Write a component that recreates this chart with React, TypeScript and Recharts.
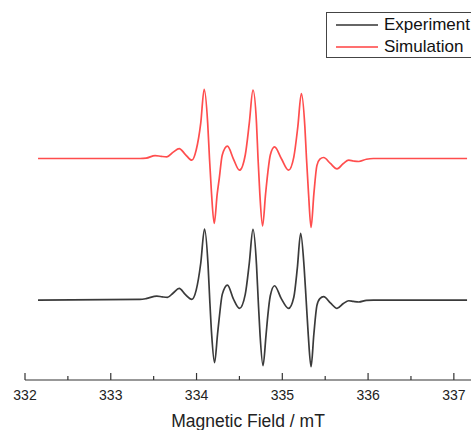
import { LineChart, Line, XAxis, YAxis, Label } from "recharts";

// magnetic field (mT) and derivative EPR signal (a.u.), baseline 0
const fieldSim = [
  332.152, 333.342, 333.412, 333.517, 333.588, 333.654, 333.728, 333.798, 333.868, 333.946,
  333.996, 334.049, 334.089, 334.13, 334.151, 334.175, 334.206, 334.241, 334.265, 334.3,
  334.361, 334.428, 334.501, 334.568, 334.615, 334.658, 334.699, 334.717, 334.738, 334.77,
  334.805, 334.831, 334.86, 334.91, 334.988, 335.073, 335.134, 335.181, 335.222, 335.263,
  335.282, 335.306, 335.335, 335.368, 335.403, 335.438, 335.482, 335.56, 335.638, 335.712,
  335.774, 335.829, 335.891, 335.98, 336.062, 337.154,
];
const simulation = [
  0, 0, 0.005, 0.042, 0.03, 0.023, 0.09, 0.141, 0.06, -0.024,
  0.12, 0.5, 0.979, 0.5, 0.0, -0.5, -0.918, -0.5, -0.28, 0.05,
  0.174, 0.0, -0.165, 0.05, 0.5, 0.965, 0.5, 0.0, -0.5, -0.952,
  -0.5, -0.2, 0.05, 0.164, 0.0, -0.165, 0.02, 0.45, 0.918, 0.45,
  0.0, -0.5, -0.975, -0.5, -0.1, -0.01, 0.014, -0.07, -0.147, -0.07,
  -0.024, -0.035, -0.042, -0.01, 0, 0,
];

const fieldExp = [
  332.152, 333.342, 333.412, 333.537, 333.599, 333.661, 333.728, 333.798, 333.868, 333.946,
  333.996, 334.049, 334.093, 334.134, 334.154, 334.177, 334.21, 334.245, 334.265, 334.3,
  334.361, 334.428, 334.501, 334.568, 334.615, 334.658, 334.699, 334.719, 334.741, 334.775,
  334.81, 334.831, 334.86, 334.91, 334.988, 335.073, 335.134, 335.175, 335.214, 335.254,
  335.278, 335.303, 335.335, 335.368, 335.403, 335.438, 335.482, 335.56, 335.638, 335.712,
  335.774, 335.829, 335.891, 335.98, 336.062, 337.154,
];
const experiment = [
  0, 0.01, 0.02, 0.056, 0.045, 0.038, 0.1, 0.165, 0.08, 0.01,
  0.14, 0.52, 1.003, 0.5, 0.0, -0.5, -0.885, -0.48, -0.25, 0.08,
  0.212, 0.02, -0.118, 0.08, 0.52, 0.998, 0.5, 0.0, -0.5, -0.927,
  -0.5, -0.22, 0.06, 0.202, 0.02, -0.118, 0.04, 0.45, 0.942, 0.47,
  0.0, -0.5, -0.942, -0.48, -0.08, 0.02, 0.047, -0.04, -0.118, -0.05,
  -0.01, -0.02, -0.028, -0.005, 0, 0,
];

const xTicks = [332, 332.5, 333, 333.5, 334, 334.5, 335, 335.5, 336, 336.5, 337];

// simulation is stacked above the experiment
const SIM_OFFSET = 2;

const simData = fieldSim.map((x, i) => ({ x, y: simulation[i] + SIM_OFFSET }));
const expData = fieldExp.map((x, i) => ({ x, y: experiment[i] }));

const FONT = "'Liberation Sans', Arial, sans-serif";

const FieldTick = ({ x, y, payload }: { x?: number; y?: number; payload?: { value: number } }) => {
  if (x === undefined || y === undefined || !payload) return null;
  const major = Number.isInteger(payload.value);
  return (
    <g>
      <line x1={x} x2={x} y1={y} y2={y - (major ? 7 : 4)} stroke="#333" strokeWidth={1.2} />
      {major && (
        <text x={x} y={y + 20} textAnchor="middle" fontSize={14} fill="#222" fontFamily={FONT}>
          {payload.value}
        </text>
      )}
    </g>
  );
};

export default function App() {
  return (
    <div style={{ position: "absolute", left: 0, top: 0, width: 471, height: 430, background: "#fff", overflow: "hidden" }}>
      <LineChart width={471} height={430} margin={{ top: 0, right: 0, left: 25, bottom: 0 }}>
        <XAxis
          type="number"
          dataKey="x"
          domain={[332, 337.2]}
          ticks={xTicks}
          allowDataOverflow
          height={50}
          tickSize={0}
          tickMargin={0}
          tickLine={false}
          axisLine={{ stroke: "#333", strokeWidth: 1.2 }}
          tick={<FieldTick />}
          interval={0}
        >
          <Label
            value="Magnetic Field / mT"
            position="insideBottom"
            offset={3}
            fontSize={17.5}
            fill="#222"
            fontFamily={FONT}
          />
        </XAxis>
        <YAxis type="number" domain={[-1.13, 4.24]} hide allowDataOverflow />
        <Line
          data={expData}
          dataKey="y"
          type="monotone"
          stroke="#3a3a3a"
          strokeWidth={1.7}
          dot={false}
          isAnimationActive={false}
        />
        <Line
          data={simData}
          dataKey="y"
          type="monotone"
          stroke="#ff4d4d"
          strokeWidth={1.7}
          dot={false}
          isAnimationActive={false}
        />
      </LineChart>

      <div
        style={{
          position: "absolute",
          left: 326,
          top: 12,
          width: 160,
          height: 46,
          border: "1px solid #444",
          boxSizing: "border-box",
          fontFamily: FONT,
          fontSize: 17,
          color: "#111",
          background: "#fff",
        }}
      >
        <div style={{ display: "flex", alignItems: "center", height: 22, marginTop: 1 }}>
          <span style={{ width: 42, height: 2, background: "#666", marginLeft: 9, marginRight: 6 }} />
          <span>Experiment</span>
        </div>
        <div style={{ display: "flex", alignItems: "center", height: 22 }}>
          <span style={{ width: 42, height: 2, background: "#ff7070", marginLeft: 9, marginRight: 6 }} />
          <span>Simulation</span>
        </div>
      </div>
    </div>
  );
}
